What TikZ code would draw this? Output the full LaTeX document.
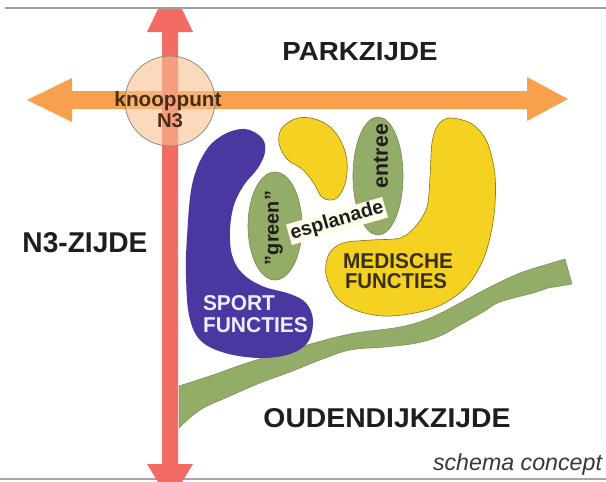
\documentclass[tikz,border=0pt]{standalone}
\usepackage{fontspec}
\setmainfont{Liberation Sans}
\usepackage{graphicx}
\usetikzlibrary{shapes.geometric}
\definecolor{redarrow}{HTML}{F26C64}
\definecolor{orangearrow}{HTML}{F7A04E}
\definecolor{peach}{HTML}{F8C091}
\definecolor{sportblue}{HTML}{4A37A0}
\definecolor{medyellow}{HTML}{F5D222}
\definecolor{olivegreen}{HTML}{93AC67}
\definecolor{ink}{HTML}{1E1E1E}
\definecolor{brownink}{HTML}{4A2C14}
\definecolor{medink}{HTML}{3A3018}
\begin{document}
\begin{tikzpicture}[x=1pt,y=-1pt,
  lbl/.style={inner sep=0pt, outer sep=0pt},
  titletext/.style={lbl, text=ink, font=\bfseries},
  blobline/.style={draw=#1, line width=0.6pt},
  yellowblob/.style={fill=medyellow, blobline=black!45!medyellow},
  greenblob/.style={fill=olivegreen, blobline=black!20!olivegreen}]
\useasboundingbox (0,0) rectangle (606,482);
\clip (0,0) rectangle (606,482);
\fill[white] (0,0) rectangle (606,482);

% frame lines
\draw[gray!75, line width=1.2pt] (5,8) -- (606,8);
\draw[gray!70, line width=1.2pt] (0,479) -- (606,479);
\draw[gray!12, line width=0.8pt] (601,12) -- (601,440);

% green band
\fill[olivegreen, draw=black!20!olivegreen, line width=0.5pt]
  plot[smooth, tension=0.6] coordinates {(179,386) (210,376) (250,362) (300,347) (350,334) (400,327) (430,318) (460,303) (490,287) (520,273) (545,265) (565,259)}
  -- (572,284)
  -- plot[smooth, tension=0.6] coordinates {(548,288) (533,293) (500,302) (483,312) (460,325) (440,336) (417,343) (385,347) (350,350) (320,360) (290,372) (260,383) (230,396) (200,410) (179,428)}
  -- cycle;

% blue sport shape
\fill[sportblue] plot[smooth cycle, tension=0.6] coordinates {(245,129) (262,138) (265,152) (258,168) (244,185) (234,205) (230,230) (232,255) (242,273) (262,286) (290,294) (306,303) (313,320) (308,342) (290,354) (260,358) (225,353) (200,340) (189,315) (186,275) (187,237) (192,185) (205,152) (223,135)};

% small yellow blob
\path[yellowblob] plot[smooth cycle, tension=0.6] coordinates {(282,128) (298,118) (318,120) (335,132) (346,155) (346,180) (337,198) (323,198) (313,182) (302,169) (287,159) (279,143)};

% big yellow shape
\path[yellowblob] plot[smooth cycle, tension=0.55] coordinates {(450,118) (472,124) (487,142) (495,175) (494,215) (485,255) (468,285) (443,304) (415,313) (383,316) (355,310) (337,298) (326,275) (329,254) (343,243) (372,240) (400,238) (415,227) (427,207) (430,177) (432,143) (438,125)};

% green ellipses
\path[greenblob] (275,226) ellipse [x radius=27, y radius=54];
\path[greenblob] (378,176) ellipse [x radius=25, y radius=59];

% orange horizontal arrow
\fill[orangearrow] (72,91) -- (527,91) -- (527,77) -- (568,99) -- (527,121) -- (527,109) -- (72,109) -- (72,122) -- (27,100) -- (72,78) -- cycle;

% red vertical arrow
\fill[redarrow] (162,32) -- (147,32) -- (158,9) -- (182,9) -- (193,32) -- (178,32) -- (178,464) -- (193,464) -- (182,482) -- (158,482) -- (147,464) -- (162,464) -- cycle;

% knooppunt circle
\path[fill=peach, fill opacity=0.6, draw=gray!80!brown, line width=0.7pt] (170,101) circle [radius=45];

% labels
\node[titletext] (park) at (360,52) {\resizebox{155pt}{18pt}{PARKZIJDE}};
\node[titletext] (n3z) at (85,243) {\resizebox{125pt}{20pt}{N3-ZIJDE}};
\node[titletext] (oud) at (387,418.5) {\resizebox{247pt}{19pt}{OUDENDIJKZIJDE}};
\node[lbl, anchor=base, text=brownink, font=\bfseries] (knoop) at (168,106) {\resizebox{107pt}{!}{knooppunt}};
\node[lbl, anchor=base, text=brownink, font=\bfseries] (n3) at (170,127) {\resizebox{26pt}{14pt}{N3}};
\node[lbl, anchor=base west, text=white!93!blue, font=\bfseries] (sport1) at (203,310) {\resizebox{72pt}{15pt}{SPORT}};
\node[lbl, anchor=base west, text=white!93!blue, font=\bfseries] (sport2) at (203,332) {\resizebox{105pt}{15pt}{FUNCTIES}};
\node[lbl, anchor=base west, text=medink, font=\bfseries] (med1) at (343,268) {\resizebox{110pt}{15pt}{MEDISCHE}};
\node[lbl, anchor=base west, text=medink, font=\bfseries] (med2) at (345,288) {\resizebox{102pt}{15pt}{FUNCTIES}};
\node[lbl, rotate=90, text=ink, font=\bfseries] (green) at (274,228) {\resizebox{74pt}{!}{"green"}};
\node[lbl, rotate=90, text=ink, font=\bfseries] (entree) at (381,156) {\resizebox{64pt}{!}{entree}};
\node[rotate=16, fill=yellow!8!white, inner xsep=2pt, inner ysep=1.5pt, text=ink, font=\bfseries] (espl) at (337,221) {\resizebox{96pt}{!}{esplanade}};
\node[lbl, anchor=base west, text=black!78, font=\itshape] (schema) at (433,470) {\resizebox{169pt}{!}{schema concept}};
\end{tikzpicture}
\end{document}
